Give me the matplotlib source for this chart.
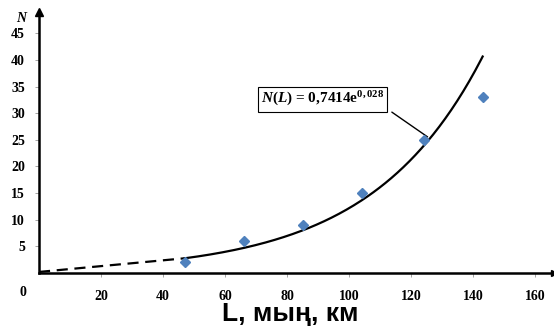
import numpy as np
import matplotlib
matplotlib.use("Agg")
from matplotlib import pyplot as plt

# measured points
L_points = [47, 66, 85, 104, 124, 143]
N_points = [2, 6, 9, 15, 25, 33]

# fitted model N(L) = a * exp(b * L)
fit_a = 0.7414
fit_b = 0.028
fit_start = 47
fit_end = 143

x_ticks = [20, 40, 60, 80, 100, 120, 140, 160]
y_ticks = [5, 10, 15, 20, 25, 30, 35, 40, 45]

serif = ["Liberation Serif", "DejaVu Serif"]
plt.rcParams["mathtext.fontset"] = "custom"
plt.rcParams["mathtext.rm"] = "Liberation Serif:bold"
plt.rcParams["mathtext.it"] = "Liberation Serif:bold:italic"
plt.rcParams["mathtext.bf"] = "Liberation Serif:bold"

fig = plt.figure(figsize=(5.54, 3.30), dpi=100)
ax = fig.add_axes([39 / 554, 1 - 273 / 330, 1 - 39 / 554, (273 - 12) / 330])
ax.set_xlim(0, 166)
ax.set_ylim(0, 49)

# fitted curve: solid over the data range, dashed extrapolation toward zero
L_fit = np.linspace(fit_start, fit_end, 200)
ax.plot(L_fit, fit_a * np.exp(fit_b * L_fit), color="black", lw=1.6, zorder=3)
ax.plot([0, fit_start], [0.2, fit_a * np.exp(fit_b * fit_start)],
        color="black", lw=1.6, ls=(0, (5, 3)), zorder=3)

ax.plot(L_points, N_points, ls="none", marker="D", ms=5.5, color="#4F81BD",
        markeredgecolor="#4F81BD", zorder=4)

# equation label with leader line
L_leader = 126
ax.annotate("", xy=(L_leader, fit_a * np.exp(fit_b * L_leader)), xytext=(113, 30.5),
            arrowprops=dict(arrowstyle="-", color="black", lw=1.0))
ax.text(91.5, 32.6, r"$\mathit{N(L)}$ = 0,7414e$^{\mathbf{0,028}}$",
        ha="center", va="center", fontsize=11, fontweight="bold", family=serif,
        bbox=dict(boxstyle="square,pad=0.2", fc="white", ec="black", lw=0.8),
        zorder=5)

# axes as arrows
for side in ["top", "right"]:
    ax.spines[side].set_visible(False)
for side in ["left", "bottom"]:
    ax.spines[side].set_linewidth(1.8)
ax.plot(1, 0, ">", color="black", ms=5, transform=ax.transAxes, clip_on=False)
ax.plot(0, 1, "^", color="black", ms=6, transform=ax.transAxes, clip_on=False)

ax.set_xticks(x_ticks)
ax.set_yticks(y_ticks)
ax.tick_params(axis="x", length=3, width=0.5, color="gray", pad=9)
ax.tick_params(axis="y", length=3, width=0.5, color="gray", pad=7)
for lab in ax.get_xticklabels() + ax.get_yticklabels():
    lab.set_family(serif)
    lab.set_fontweight("bold")
    lab.set_fontsize(10)

fig.text(23 / 554, 1 - 293 / 330, "0", ha="center", va="center", fontsize=10,
         fontweight="bold", family=serif)
fig.text(21 / 554, 1 - 18 / 330, "N", ha="center", va="center", fontsize=10,
         fontweight="bold", fontstyle="italic", family=serif)
fig.text(290 / 554, 1 - 314 / 330, "L, мың, км", ha="center", va="center",
         fontsize=19, fontweight="bold", family=["Liberation Sans", "DejaVu Sans"])

plt.savefig("out.png", dpi=100)
